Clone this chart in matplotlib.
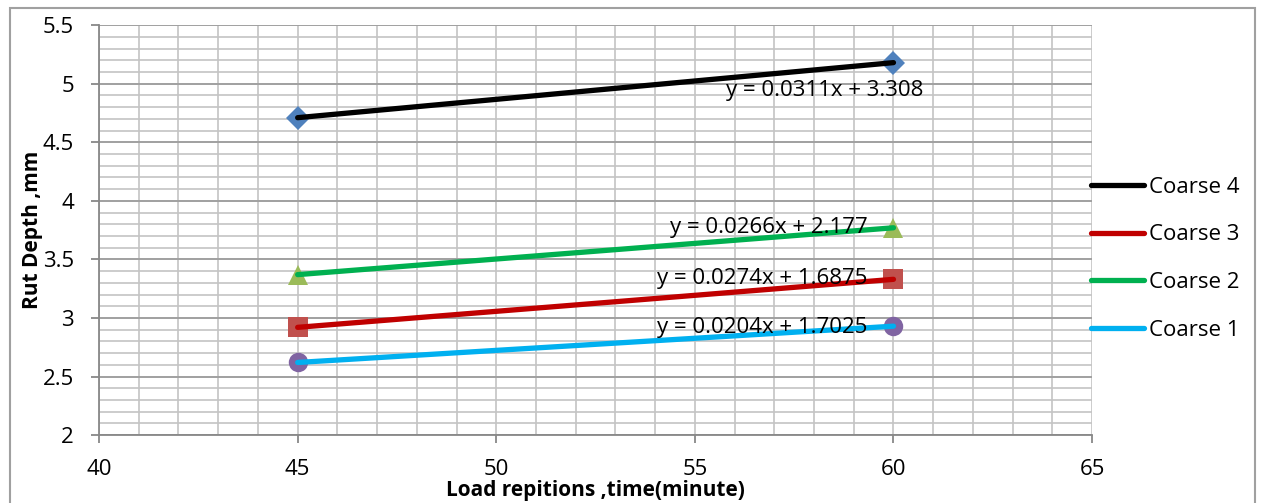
import numpy as np
import matplotlib.pyplot as plt
from matplotlib.patches import Rectangle
from matplotlib.ticker import MultipleLocator

# data
time_min = [45, 60]
coarse4 = [4.71, 5.18]
coarse3 = [2.92, 3.33]
coarse2 = [3.37, 3.77]
coarse1 = [2.62, 2.93]
names = ["Coarse 4", "Coarse 3", "Coarse 2", "Coarse 1"]
equations = ["y = 0.0311x + 3.308", "y = 0.0274x + 1.6875",
             "y = 0.0266x + 2.177", "y = 0.0204x + 1.7025"]

line_colors = ["#000000", "#C00000", "#00B050", "#00B0F0"]
marker_colors = ["#4F81BD", "#C0504D", "#9BBB59", "#8064A2"]
markers = ["D", "s", "^", "o"]
msizes = [12, 14, 15, 14]
eq_pos = [(60.75, 4.94), (59.35, 3.34), (59.35, 3.77), (59.35, 2.92)]

plt.rcParams['font.family'] = ['Open Sans', 'DejaVu Sans']

fig = plt.figure(figsize=(12.65, 5.03), dpi=100)
ax = fig.add_axes([0.0783, 0.135, 0.785, 0.815])

fig.patches.append(Rectangle((10 / 1265, -0.05), 1245 / 1265, 1 - 8 / 503 + 0.05,
                             transform=fig.transFigure, fill=False,
                             edgecolor="#A0A0A0", linewidth=1.5))

series = [coarse4, coarse3, coarse2, coarse1]
for i, ys in enumerate(series):
    ax.plot(time_min, ys, color=line_colors[i], linewidth=3.8,
            solid_capstyle="round", label=names[i], zorder=3)
    ax.plot(time_min, ys, linestyle="none", marker=markers[i], markersize=msizes[i],
            color=marker_colors[i], markeredgewidth=0, zorder=2)
    ex, ey = eq_pos[i]
    ax.text(ex, ey, equations[i], fontsize=16, ha="right", va="center", zorder=4)

ax.set_xlim(40, 65)
ax.set_ylim(2, 5.5)
ax.xaxis.set_major_locator(MultipleLocator(5))
ax.xaxis.set_minor_locator(MultipleLocator(1))
ax.yaxis.set_major_locator(MultipleLocator(0.5))
ax.yaxis.set_minor_locator(MultipleLocator(0.1))
ax.set_yticks(np.arange(2, 5.51, 0.5))
ax.set_yticklabels(["2", "2.5", "3", "3.5", "4", "4.5", "5", "5.5"])

ax.grid(which="major", axis="y", color="#A0A0A0", linewidth=1.4)
ax.grid(which="both", axis="x", color="#C4C4C4", linewidth=1.2)
ax.grid(which="minor", axis="y", color="#C4C4C4", linewidth=1.2)
ax.set_axisbelow(True)
for s in ["top", "right"]:
    ax.spines[s].set_visible(False)
for s in ["left", "bottom"]:
    ax.spines[s].set_color("#888888")
    ax.spines[s].set_linewidth(1.3)
ax.tick_params(which="major", length=6, color="#888888", labelsize=16, width=1.3)
ax.tick_params(which="minor", length=0)
ax.tick_params(axis="x", pad=11)
ax.tick_params(axis="y", pad=12)

ax.set_ylabel("Rut Depth ,mm", fontsize=15, fontweight="bold", labelpad=0)
ax.set_xlabel("Load repitions ,time(minute)", fontsize=15, fontweight="bold", labelpad=0)

ax.legend(loc="center left", bbox_to_anchor=(0.99, 0.43), frameon=False,
          fontsize=16, handlelength=2.4, labelspacing=1.2, handletextpad=0.2,
          borderaxespad=0)

fig.savefig("out.png", dpi=100)
